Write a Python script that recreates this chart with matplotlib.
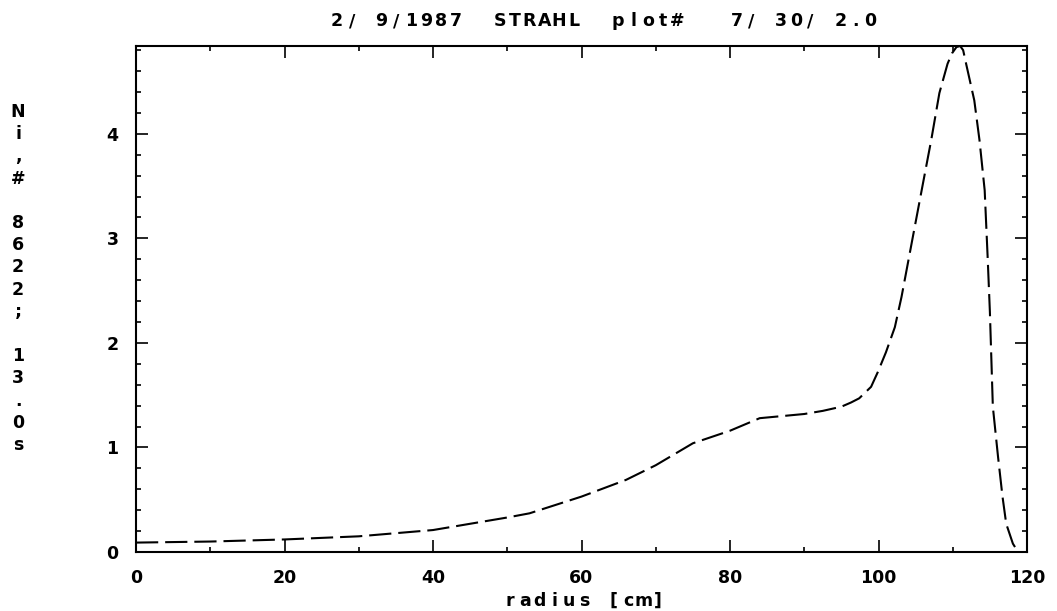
import matplotlib
matplotlib.use('Agg')
import matplotlib.pyplot as plt
from matplotlib.ticker import MultipleLocator

plt.rcParams['font.family'] = ['DejaVu Sans']
plt.rcParams['font.weight'] = 'bold'
plt.rcParams['lines.scale_dashes'] = False

# radial density profile
radius = [0, 10, 20, 30, 40, 45, 50, 53, 60, 66, 70, 75, 80, 84, 87, 90,
          92.5, 95, 96.3, 97.4, 99.0, 99.9, 101.0, 102.2, 103.1, 104.8,
          106.0, 107.1, 108.2, 109.3, 109.9, 110.5, 111.0, 111.4, 111.8,
          112.9, 113.6, 114.3, 114.7, 115.0, 115.4, 116.1, 116.7, 117.2,
          118.1, 118.8]
density = [0.09, 0.10, 0.12, 0.15, 0.21, 0.27, 0.33, 0.37, 0.53, 0.69, 0.83,
           1.04, 1.16, 1.28, 1.30, 1.32, 1.35, 1.39, 1.43, 1.47, 1.58, 1.72,
           1.91, 2.15, 2.44, 3.08, 3.53, 3.94, 4.39, 4.67, 4.77, 4.83, 4.84,
           4.80, 4.67, 4.32, 3.94, 3.46, 2.82, 2.30, 1.39, 0.91, 0.53, 0.27,
           0.08, 0.0]

x_ticks = [0, 20, 40, 60, 80, 100, 120]
y_ticks = [0, 1, 2, 3, 4]

title = '2/ 9/1987  STRAHL  plot#   7/ 30/ 2.0'
xlabel = 'radius [cm]'
ylabel = 'Ni,# 8622; 13.0s'

W, H = 1057, 611
fig = plt.figure(figsize=(W / 100, H / 100), dpi=100)
ax = fig.add_axes([136 / W, 1 - 552 / H, (1027 - 136) / W, (552 - 46) / H])

ax.plot(radius, density, color='black', linewidth=1.5, dashes=(16, 5))

ax.set_xlim(0, 120)
ax.set_ylim(0, 4.84)
ax.set_xticks(x_ticks)
ax.set_yticks(y_ticks)
ax.xaxis.set_minor_locator(MultipleLocator(10))
ax.yaxis.set_minor_locator(MultipleLocator(0.2))
ax.tick_params(which='both', direction='in', top=True, right=True,
               width=1.2, colors='black', labelsize=12.5)
ax.tick_params(which='major', length=8.5)
ax.tick_params(which='minor', length=3.6)
ax.tick_params(axis='y', which='major', pad=12.5)
ax.tick_params(axis='x', which='major', pad=12)
for s in ax.spines.values():
    s.set_linewidth(1.5)


def plotter_text(s, x0, y, pitch=14.8):
    # old plotter font: fixed wide character cells
    for i, ch in enumerate(s):
        fig.text((x0 + i * pitch) / W, 1 - y / H, ch, ha='center',
                 va='baseline', fontsize=12.5)


plotter_text(title, 337, 26)
plotter_text(xlabel, 584 - 5 * 14.8, 606)
for i, ch in enumerate(ylabel):
    fig.text(18 / W, 1 - (112 + 22.2 * i) / H, ch, ha='center', va='center',
             fontsize=12.5)

fig.savefig('out.png', dpi=100)
